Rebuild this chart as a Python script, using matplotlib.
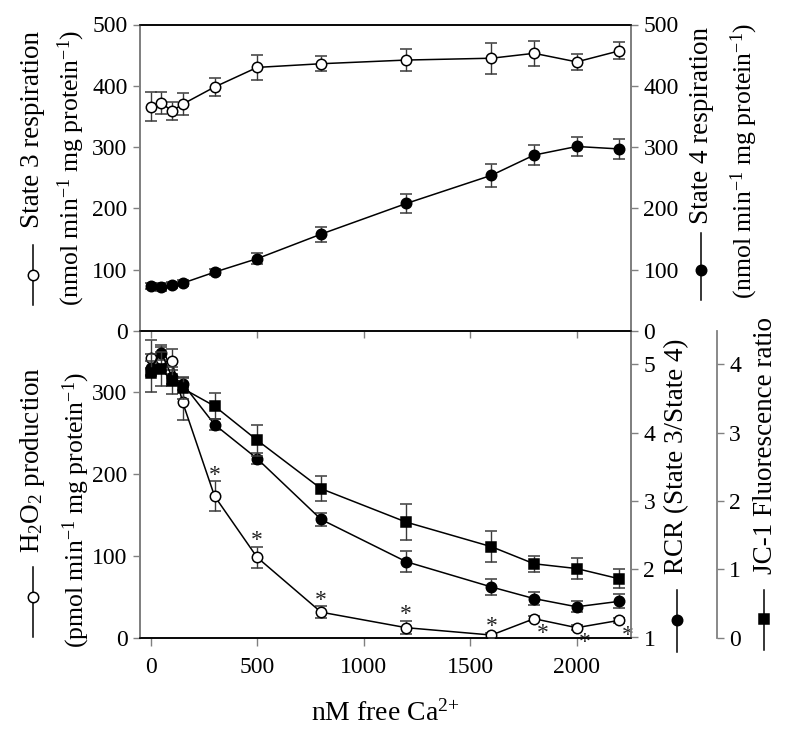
import matplotlib
matplotlib.use("Agg")
import matplotlib.pyplot as plt
from matplotlib.lines import Line2D

plt.rcParams['font.family'] = ['Liberation Serif', 'DejaVu Serif']
plt.rcParams['mathtext.fontset'] = 'custom'
plt.rcParams['mathtext.rm'] = 'Liberation Serif'
plt.rcParams['mathtext.it'] = 'Liberation Serif:italic'
plt.rcParams['mathtext.bf'] = 'Liberation Serif:bold'

# ---------------- data ----------------
ca = [0, 50, 100, 150, 300, 500, 800, 1200, 1600, 1800, 2000, 2200]

state3 = [366, 372, 359, 370, 398, 430, 436, 442, 445, 453, 439, 457]
state3_err = [24, 18, 14, 18, 15, 21, 12, 18, 25, 20, 13, 14]

state4 = [74, 72, 75, 78, 96, 118, 158, 208, 254, 287, 301, 297]
state4_err = [5, 6, 5, 5, 5, 9, 12, 15, 19, 17, 15, 16]

h2o2 = [342, 341, 338, 288, 173, 98, 31, 12, 3, 23, 12, 21]
h2o2_err = [22, 15, 15, 22, 18, 13, 7, 8, 3, 3, 3, 3]
h2o2_sig = ['', '', '', '', 'above', 'above', 'above', 'above', 'above', 'below', 'below', 'below']

rcr = [4.95, 5.17, 4.82, 4.72, 4.12, 3.62, 2.73, 2.11, 1.74, 1.57, 1.45, 1.53]
rcr_err = [0.10, 0.11, 0.10, 0.10, 0.08, 0.08, 0.10, 0.15, 0.12, 0.10, 0.08, 0.10]

jc1 = [3.87, 3.93, 3.76, 3.65, 3.39, 2.89, 2.18, 1.69, 1.33, 1.08, 1.01, 0.86]
jc1_err = [0.28, 0.25, 0.20, 0.15, 0.19, 0.23, 0.18, 0.26, 0.23, 0.12, 0.15, 0.14]

x_ticks = [0, 500, 1000, 1500, 2000]
resp_ticks = [0, 100, 200, 300, 400, 500]
h2o2_ticks = [0, 100, 200, 300]
rcr_ticks = [1, 2, 3, 4, 5]
jc1_ticks = [0, 1, 2, 3, 4]

# ---------------- style ----------------
W, H = 800, 746
TICK_FS = 17
LAB_FS = 19.5
LAB2_FS = 18.5
GRAY = '#808080'
ECOL = '#3a3a3a'
MS = 7.5

fig = plt.figure(figsize=(W / 100, H / 100), dpi=100)
fig.patch.set_facecolor('white')

def fx(px):
    return px / W

def fy(py):
    return 1 - py / H

left, right = 140, 631
ax1 = fig.add_axes([fx(left), fy(331), fx(right) - fx(left), fy(24.5) - fy(331)])
ax2 = fig.add_axes([fx(left), fy(637.5), fx(right) - fx(left), fy(331) - fy(637.5)])

def style_common(ax):
    ax.patch.set_visible(False)
    ax.set_xlim(-50, 2255)
    for s in ['left', 'right']:
        ax.spines[s].set_color(GRAY)
        ax.spines[s].set_linewidth(1.3)
    for s in ['top', 'bottom']:
        ax.spines[s].set_color('black')
        ax.spines[s].set_linewidth(1.1)
    ax.tick_params(axis='y', direction='out', length=5, width=1, color=GRAY,
                   labelsize=TICK_FS, pad=4)
    ax.tick_params(axis='x', direction='out', length=6, width=1, color=GRAY,
                   labelsize=TICK_FS, pad=8)

def ebar(ax, x, y, e, face, marker='o', z=3):
    ax.errorbar(x, y, yerr=e, fmt='-', color='black', lw=1.1, ecolor=ECOL,
                elinewidth=1.0, capsize=4, capthick=1.0, zorder=z,
                marker=marker, ms=MS, mfc=face, mec='black', mew=1.1)

# ---------------- top panel ----------------
ax1r = ax1.twinx()
for a in (ax1, ax1r):
    style_common(a)
    a.set_ylim(0, 500)
    a.set_yticks(resp_ticks)
ax1.spines['bottom'].set_visible(False)
ax1r.spines['bottom'].set_visible(False)
ax1.tick_params(axis='x', bottom=True, labelbottom=False, top=False, direction='out', length=5)
ax1r.tick_params(axis='x', bottom=False, labelbottom=False)
ax1.set_xticks(x_ticks)

ebar(ax1, ca, state3, state3_err, 'white')
ebar(ax1r, ca, state4, state4_err, 'black')

# ---------------- bottom panel ----------------
ax2r = ax2.twinx()
ax2j = ax2.twinx()
for a in (ax2, ax2r, ax2j):
    style_common(a)
ax2.set_ylim(0, 375)
ax2.set_yticks(h2o2_ticks)
ax2.set_xticks(x_ticks)
ax2.tick_params(axis='x', top=False)
ax2r.set_ylim(1, 5.49)
ax2r.set_yticks(rcr_ticks)
ax2j.set_ylim(0, 4.49)
ax2j.set_yticks(jc1_ticks)
ax2j.spines['right'].set_position(('axes', 1.1745))
for s in ['left', 'top', 'bottom']:
    ax2j.spines[s].set_visible(False)

ebar(ax2j, ca, jc1, jc1_err, 'black', marker='s', z=3)
ebar(ax2r, ca, rcr, rcr_err, 'black', z=4)
ebar(ax2, ca, h2o2, h2o2_err, 'white', z=5)

for xv, yv, ev, sg in zip(ca, h2o2, h2o2_err, h2o2_sig):
    if sg == 'above':
        ax2.annotate('*', (xv, yv + ev), xytext=(0, 0.5), textcoords='offset points',
                     ha='center', va='baseline', fontsize=17, color='#222222')
    elif sg == 'below':
        ax2.annotate('*', (xv, yv), xytext=(6, -3), textcoords='offset points',
                     ha='center', va='top', fontsize=17, color='#222222')

ax2.set_xlabel('nM free Ca$^{2\\!+}$', fontsize=20, labelpad=16)

# ---------------- axis labels with symbol keys ----------------
def vtext(px, py, s, fs=LAB_FS):
    fig.text(fx(px), fy(py), s, rotation=90, ha='center', va='center',
             fontsize=fs)

def key(px, y0, y1, ym, face, marker='o'):
    fig.add_artist(Line2D([fx(px), fx(px)], [fy(y0), fy(y1)], color='black', lw=1.1))
    fig.add_artist(Line2D([fx(px)], [fy(ym)], marker=marker, ms=MS, mfc=face,
                          mec='black', mew=1.1, lw=0))

vtext(33, 130, 'State 3 respiration')
vtext(71, 168, '(nmol min$^{-1}$ mg protein$^{-1}$)', LAB2_FS)
key(33, 245, 305, 275, 'white')

vtext(702, 125, 'State 4 respiration')
vtext(744, 161, '(nmol min$^{-1}$ mg protein$^{-1}$)', LAB2_FS)
key(701, 233, 300, 270, 'black')

vtext(33, 460, 'H$_2$O$_2$ production')
vtext(76, 510, '(pmol min$^{-1}$ mg protein$^{-1}$)', LAB2_FS)
key(33, 567, 637, 597, 'white')

vtext(677, 456, 'RCR (State 3/State 4)')
key(677, 590, 652, 620, 'black')

vtext(765, 446, 'JC-1 Fluorescence ratio')
key(764, 590, 650, 619, 'black', marker='s')

fig.savefig('out.png', dpi=100, facecolor='white')
